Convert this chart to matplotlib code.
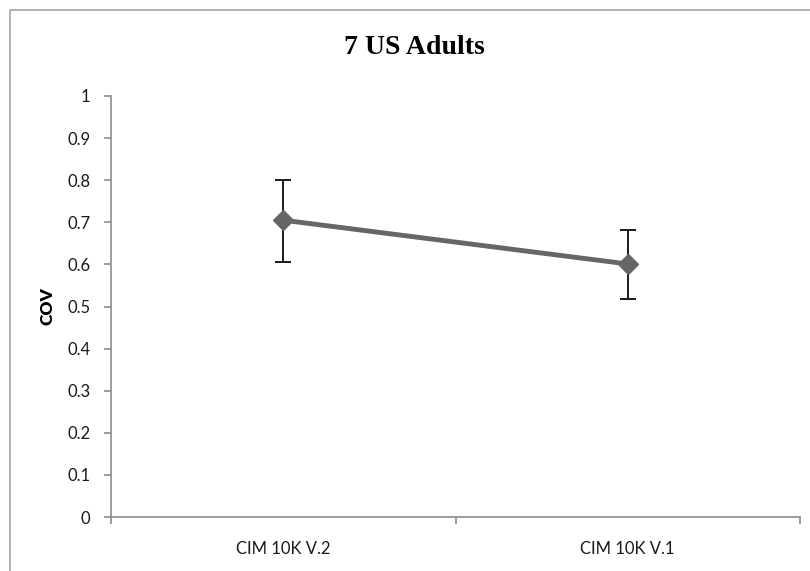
import matplotlib
matplotlib.use("Agg")
import matplotlib.pyplot as plt
from matplotlib.patches import Rectangle

categories = ["CIM 10K V.2", "CIM 10K V.1"]
cov_values = [0.705, 0.601]
err_upper = [0.800, 0.682]
err_lower = [0.606, 0.518]
y_ticks = [0, 0.1, 0.2, 0.3, 0.4, 0.5, 0.6, 0.7, 0.8, 0.9, 1]
y_tick_labels = ["0", "0.1", "0.2", "0.3", "0.4", "0.5", "0.6", "0.7", "0.8", "0.9", "1"]

fig = plt.figure(figsize=(8.10, 5.71), dpi=100)
fig.patch.set_facecolor("white")

# chart-area frame
fig.add_artist(Rectangle((10 / 810, -0.02), 1.05, 1 - 10 / 571 + 0.02,
                         transform=fig.transFigure, fill=False,
                         edgecolor="#a6a6a6", linewidth=1.2))

ax = fig.add_axes([111 / 810, (571 - 517) / 571, (800 - 111) / 810, (517 - 96) / 571])

x = [0.5, 1.5]
yerr = [[v - lo for v, lo in zip(cov_values, err_lower)],
        [hi - v for v, hi in zip(cov_values, err_upper)]]

ax.errorbar(x, cov_values, yerr=yerr, fmt="none", ecolor="#1a1a1a",
            elinewidth=1.4, capsize=5.5, capthick=1.4, zorder=2)
ax.plot(x, cov_values, color="#666666", linewidth=3.5, marker="D",
        markersize=10, markerfacecolor="#666666", markeredgecolor="#666666",
        zorder=3)

ax.set_xlim(0, 2)
ax.set_ylim(0, 1)
ax.set_yticks(y_ticks)
ax.set_yticklabels(y_tick_labels)
ax.set_xticks([0, 1, 2])
ax.set_xticklabels([])
ax.set_xticks(x, minor=True)
ax.set_xticklabels(categories, minor=True)

for side in ["top", "right"]:
    ax.spines[side].set_visible(False)
for side in ["left", "bottom"]:
    ax.spines[side].set_color("#8c8c8c")
    ax.spines[side].set_linewidth(1.2)

ax.tick_params(axis="y", which="major", direction="out", length=5, width=1.2,
               color="#8c8c8c", labelsize=12, labelcolor="#1a1a1a", pad=10)
ax.tick_params(axis="x", which="major", direction="out", length=5, width=1.2,
               color="#8c8c8c")
ax.tick_params(axis="x", which="minor", length=0, labelsize=12,
               labelcolor="#1a1a1a", pad=17)
for lbl in ax.get_yticklabels() + ax.get_xticklabels(minor=True):
    lbl.set_fontfamily("Lato")

ax.set_ylabel("COV", fontfamily="Lato", fontweight="heavy", fontsize=12.5,
              labelpad=8)
fig.text(414 / 810, 1 - 48 / 571, "7 US Adults", ha="center", va="center",
         fontfamily="Liberation Serif", fontweight="bold", fontsize=20)

fig.savefig("out.png", dpi=100, facecolor="white")
